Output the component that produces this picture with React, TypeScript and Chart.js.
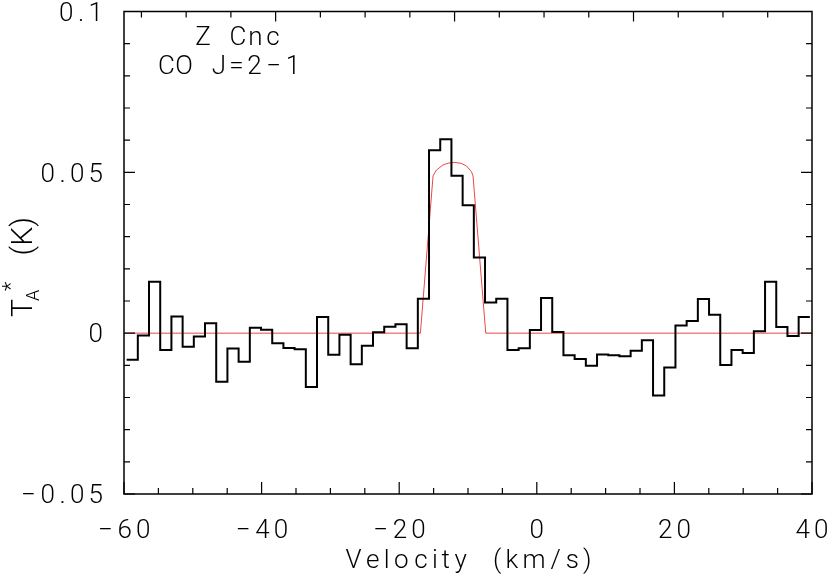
import React, { useEffect, useRef } from "react";
import { Chart, registerables } from "chart.js";

Chart.register(...registerables);

// Spectrum: channel grid (km/s) and antenna temperature per channel (K)
const CHANNEL_START = -59.62; // left edge of first channel
const CHANNEL_WIDTH = 1.628;
const TA = [
  -0.0083, -0.0007, 0.016, -0.0052, 0.0052, -0.0042, -0.001, 0.0031, -0.0151, -0.0048,
  -0.0089, 0.0017, 0.0011, -0.0031, -0.0046, -0.005, -0.0167, 0.005, -0.0067, -0.0005,
  -0.0097, -0.0039, 0.0003, 0.002, 0.0028, -0.0047, 0.0107, 0.0569, 0.0603, 0.0489,
  0.0398, 0.0235, 0.0095, 0.0107, -0.0052, -0.0047, 0.001, 0.0109, 0.0004, -0.0069,
  -0.008, -0.0101, -0.0066, -0.0069, -0.0072, -0.0055, -0.0022, -0.0194, -0.0107, 0.0024,
  0.0038, 0.0106, 0.0057, -0.0099, -0.0052, -0.0062, 0.0006, 0.016, 0.0019, -0.0009,
  0.005,
];

// Shell fit (red)
const FIT_V = [-60, -16.92, -15.08, -14.59, -13.63, -12.8, -11.93, -11.0, -10.23, -9.5, -9.27, -7.42, 40];
const FIT_T = [0, 0, 0.0489, 0.0507, 0.0523, 0.0529, 0.0531, 0.0528, 0.052, 0.0502, 0.0489, 0, 0];

// Axes
const X_MIN = -60;
const X_MAX = 40;
const X_LABELS = [-60, -40, -20, 0, 20, 40];
const X_MINOR_STEP = 5;
const Y_MIN = -0.05;
const Y_MAX = 0.1;
const Y_LABELS = [-0.05, 0, 0.05, 0.1];
const Y_LABEL_TEXT = ["−0.05", "0", "0.05", "0.1"];
const Y_MINOR_STEP = 0.01;
// Top axis: frequency offset (MHz)
const KMS_PER_MHZ = 1.3004;
const V_REF = -37.96;
const F_STEP = 5;

const TITLE_LINES = ["Z Cnc", "CO J=2−1"];
const X_TITLE = "Velocity (km/s)";

const FONT_FAMILY = "Roboto, 'Liberation Sans', sans-serif";

function cellWidth(ch: string): number {
  if (ch >= "0" && ch <= "9") return 18.5;
  if (ch === ".") return 11;
  if (ch === "−") return 20;
  return 17.5;
}

const PROP_W: Record<string, number> = {
  V: 19.3, e: 19.3, l: 8.6, o: 20.3, c: 19.3, i: 8.6, t: 12.8, y: 17.1,
  " ": 22, "(": 12, k: 17.5, m: 27, "/": 16, s: 17.5, ")": 12,
};
function propWidth(ch: string): number {
  return PROP_W[ch] ?? 17.5;
}

function drawCells(
  ctx: CanvasRenderingContext2D,
  text: string,
  x: number,
  y: number,
  align: "left" | "center" | "right",
  cw: (c: string) => number = cellWidth
) {
  const chars = Array.from(text);
  const total = chars.reduce((s, c) => s + cw(c), 0);
  let start = x;
  if (align === "center") start = x - total / 2;
  else if (align === "right") start = x - total;
  ctx.textAlign = "center";
  for (const c of chars) {
    const w = cw(c);
    if (c !== " ") ctx.fillText(c, start + w / 2, y);
    start += w;
  }
}

const framePlugin = {
  id: "framePlugin",
  afterDraw(chart: any) {
    const ctx: CanvasRenderingContext2D = chart.ctx;
    const { left, right, top, bottom } = chart.chartArea;
    const xs = chart.scales.x;
    const ys = chart.scales.y;
    const xt = chart.scales.xTop;
    ctx.save();
    ctx.strokeStyle = "#000";
    ctx.lineWidth = 1.5;
    ctx.strokeRect(left, top, right - left, bottom - top);

    ctx.lineWidth = 1.2;
    ctx.beginPath();
    // bottom ticks
    for (let v = X_MIN; v <= X_MAX + 1e-9; v += X_MINOR_STEP) {
      const px = xs.getPixelForValue(v);
      const major = Math.abs(v % 20) < 1e-9;
      const len = major ? 12 : 6;
      ctx.moveTo(px, bottom);
      ctx.lineTo(px, bottom - len);
    }
    // left/right ticks
    const nY = Math.round((Y_MAX - Y_MIN) / Y_MINOR_STEP);
    for (let i = 0; i <= nY; i++) {
      const v = Y_MIN + i * Y_MINOR_STEP;
      const py = ys.getPixelForValue(v);
      const major = i % 5 === 0;
      const len = major ? 11 : 6;
      ctx.moveTo(left, py);
      ctx.lineTo(left + len, py);
      ctx.moveTo(right, py);
      ctx.lineTo(right - len, py);
    }
    // top ticks (frequency)
    const fLo = Math.ceil(Math.min(xt.min, xt.max) / F_STEP) * F_STEP;
    const fHi = Math.max(xt.min, xt.max);
    for (let f = fLo; f <= fHi; f += F_STEP) {
      const px = xt.getPixelForValue(f);
      if (px < left + 1 || px > right - 1) continue;
      const major = Math.abs(f % 20) < 1e-9;
      const len = major ? 10 : 6;
      ctx.moveTo(px, top);
      ctx.lineTo(px, top + len);
    }
    ctx.stroke();

    // labels
    ctx.fillStyle = "#000";
    ctx.font = `300 26px ${FONT_FAMILY}`;
    ctx.textBaseline = "alphabetic";
    for (const v of X_LABELS) {
      const px = xs.getPixelForValue(v);
      const t = v < 0 ? "−" + String(-v) : String(v);
      drawCells(ctx, t, px, 538, "center");
    }
    Y_LABELS.forEach((v, i) => {
      const py = ys.getPixelForValue(v);
      drawCells(ctx, Y_LABEL_TEXT[i], 105, py + 9.3, "right");
    });
    drawCells(ctx, TITLE_LINES[0], 238, 45, "center");
    drawCells(ctx, TITLE_LINES[1], 230, 74, "center");
    drawCells(ctx, X_TITLE, 468.5, 568, "center", propWidth);

    // Y title: T_A^* (K), rotated
    ctx.translate(32, 317);
    ctx.rotate(-Math.PI / 2);
    ctx.textAlign = "left";
    ctx.font = `300 30px ${FONT_FAMILY}`;
    ctx.fillText("T", 0, 0);
    ctx.font = `300 18px ${FONT_FAMILY}`;
    ctx.fillText("A", 16, 7);
    ctx.font = `300 22px ${FONT_FAMILY}`;
    ctx.fillText("*", 26, -14);
    ctx.font = `300 30px ${FONT_FAMILY}`;
    drawCells(ctx, "(K)", 59, 0, "left", () => 14.5);
    ctx.restore();
  },
};

export default function App() {
  const ref = useRef<HTMLCanvasElement | null>(null);
  useEffect(() => {
    if (!ref.current) return;
    const spec: { x: number; y: number }[] = TA.map((t, k) => ({
      x: CHANNEL_START + k * CHANNEL_WIDTH,
      y: t,
    }));
    spec.push({ x: CHANNEL_START + TA.length * CHANNEL_WIDTH, y: TA[TA.length - 1] });
    const fit = FIT_V.map((v, i) => ({ x: v, y: FIT_T[i] }));
    const fAtLeft = (V_REF - X_MIN) / KMS_PER_MHZ;
    const fAtRight = (V_REF - X_MAX) / KMS_PER_MHZ;
    const chart = new Chart(ref.current, {
      type: "line",
      data: {
        datasets: [
          {
            data: fit,
            borderColor: "rgba(230,40,40,0.85)",
            borderWidth: 1,
            pointRadius: 0,
            fill: false,
            tension: 0,
            order: 2,
          },
          {
            data: spec,
            borderColor: "#000000",
            borderWidth: 2,
            pointRadius: 0,
            fill: false,
            stepped: "before",
            borderJoinStyle: "miter",
            order: 1,
          },
        ],
      },
      options: {
        animation: false,
        responsive: false,
        devicePixelRatio: 1,
        parsing: false as any,
        layout: { padding: { left: 124, right: 18, top: 11.5, bottom: 85 } },
        plugins: { legend: { display: false }, tooltip: { enabled: false } },
        scales: {
          x: { type: "linear", min: X_MIN, max: X_MAX, display: false },
          xTop: {
            type: "linear",
            axis: "x",
            position: "top",
            min: fAtRight,
            max: fAtLeft,
            reverse: true,
            display: false,
          },
          y: { type: "linear", min: Y_MIN, max: Y_MAX, display: false },
        },
      },
      plugins: [framePlugin],
    } as any);
    return () => chart.destroy();
  }, []);
  return (
    <div style={{ position: "absolute", left: 0, top: 0, width: 830, height: 579, background: "#fff" }}>
      <canvas ref={ref} width={830} height={579} style={{ display: "block" }} />
    </div>
  );
}
